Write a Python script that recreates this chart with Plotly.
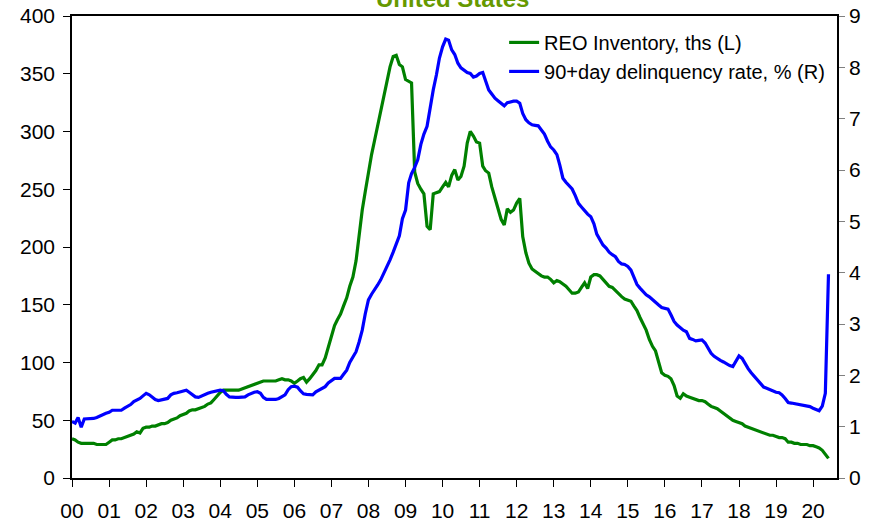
import pandas as pd
import plotly.graph_objects as go
from plotly.subplots import make_subplots

# monthly, Jan 2000 .. Jun 2020
dates = pd.date_range("2000-01-01", "2020-06-01", freq="MS")

# REO inventory, thousands (left axis)
reo = [
    34, 33, 31, 30, 30, 30, 30, 30, 29, 29, 29, 29,
    31, 33, 33, 34, 34, 35, 36, 37, 38, 40, 39, 43,
    44, 44, 45, 45, 46, 47, 47, 48, 50, 51, 52, 54,
    55, 56, 58, 59, 59, 60, 61, 62, 64, 65, 68, 71,
    74, 76, 76, 76, 76, 76, 76, 77, 78, 79, 80, 81,
    82, 83, 84, 84, 84, 84, 84, 85, 86, 85, 85, 84,
    82, 84, 86, 87, 83, 86, 89, 93, 98, 98, 104, 113,
    124, 132, 137, 142, 149, 156, 166, 174, 188, 210, 232, 248,
    265, 280, 292, 305, 318, 332, 345, 356, 365, 366, 358, 356,
    345, 343, 342, 265, 255, 250, 246, 218, 215, 246, 247, 248,
    252, 256, 252, 262, 267, 258, 261, 270, 290, 300, 296, 291,
    290, 270, 266, 264, 252, 242, 234, 224, 219, 233, 230, 232,
    238, 242, 209, 195, 186, 181, 179, 177, 175, 174, 174, 172,
    169, 171, 170, 168, 166, 163, 160, 160, 161, 165, 169, 164,
    174, 176, 176, 175, 172, 169, 166, 165, 162, 160, 157, 155,
    154, 153, 149, 145, 139, 133, 128, 120, 114, 110, 100, 91,
    89, 88, 86, 80, 71, 69, 73, 71, 70, 69, 68, 67,
    67, 66, 64, 62, 61, 60, 58, 56, 54, 52, 50, 49,
    48, 47, 45, 44, 43, 42, 41, 40, 39, 38, 37, 37,
    36, 35, 35, 34, 31, 31, 30, 30, 29, 29, 29, 28,
    28, 27, 26, 24, 21, 17,
]

# 90+ day delinquency rate, % (right axis)
delinq = [
    1.10, 1.07, 1.18, 0.99, 1.15, 1.15, 1.15, 1.16, 1.18, 1.21, 1.23, 1.26,
    1.28, 1.32, 1.32, 1.32, 1.32, 1.36, 1.39, 1.43, 1.49, 1.52, 1.55, 1.60,
    1.65, 1.62, 1.57, 1.53, 1.51, 1.52, 1.54, 1.55, 1.62, 1.65, 1.66, 1.68,
    1.70, 1.71, 1.67, 1.62, 1.58, 1.57, 1.60, 1.63, 1.65, 1.67, 1.68, 1.70,
    1.71, 1.70, 1.63, 1.58, 1.57, 1.57, 1.57, 1.58, 1.58, 1.62, 1.65, 1.67,
    1.68, 1.65, 1.57, 1.53, 1.53, 1.53, 1.53, 1.55, 1.58, 1.62, 1.72, 1.78,
    1.79, 1.77, 1.70, 1.64, 1.63, 1.62, 1.62, 1.68, 1.71, 1.74, 1.78, 1.85,
    1.90, 1.94, 1.94, 1.94, 2.02, 2.10, 2.25, 2.36, 2.46, 2.65, 2.88, 3.20,
    3.47, 3.58, 3.66, 3.76, 3.86, 3.98, 4.13, 4.25, 4.40, 4.55, 4.72, 5.05,
    5.22, 5.75, 5.93, 6.05, 6.20, 6.50, 6.70, 6.85, 7.25, 7.56, 7.85, 8.18,
    8.40, 8.55, 8.53, 8.34, 8.25, 8.08, 7.99, 7.94, 7.90, 7.88, 7.81, 7.83,
    7.88, 7.90, 7.75, 7.56, 7.48, 7.40, 7.35, 7.29, 7.25, 7.31, 7.33, 7.34,
    7.34, 7.30, 7.10, 6.98, 6.92, 6.88, 6.87, 6.86, 6.78, 6.70, 6.56, 6.45,
    6.39, 6.30, 6.10, 5.84, 5.76, 5.70, 5.63, 5.50, 5.35, 5.28, 5.20, 5.14,
    5.09, 4.95, 4.75, 4.64, 4.54, 4.48, 4.40, 4.35, 4.31, 4.22, 4.17, 4.16,
    4.12, 4.05, 3.90, 3.77, 3.70, 3.63, 3.57, 3.53, 3.48, 3.44, 3.37, 3.32,
    3.30, 3.29, 3.18, 3.05, 2.98, 2.92, 2.88, 2.85, 2.72, 2.70, 2.67, 2.68,
    2.69, 2.63, 2.53, 2.43, 2.37, 2.32, 2.29, 2.26, 2.22, 2.19, 2.17, 2.28,
    2.38, 2.33, 2.22, 2.13, 2.05, 1.98, 1.91, 1.83, 1.77, 1.75, 1.72, 1.70,
    1.67, 1.66, 1.62, 1.55, 1.47, 1.46, 1.45, 1.43, 1.42, 1.41, 1.40, 1.39,
    1.36, 1.33, 1.31, 1.40, 1.65, 3.97,
]

GREEN = "#008000"
BLUE = "#0000ff"
FONT = "Liberation Sans, Arial, sans-serif"

fig = make_subplots(specs=[[{"secondary_y": True}]])

fig.add_trace(
    go.Scatter(x=dates, y=reo, name="REO Inventory, ths (L)",
               mode="lines", line=dict(color=GREEN, width=3.2)),
    secondary_y=False,
)
fig.add_trace(
    go.Scatter(x=dates, y=delinq, name="90+day delinquency rate, % (R)",
               mode="lines", line=dict(color=BLUE, width=3.2)),
    secondary_y=True,
)

# title sits mostly above the top edge in the original
fig.add_annotation(
    text="<b>United States</b>", xref="paper", yref="paper",
    x=0.497, y=1.005, xanchor="center", yanchor="bottom", showarrow=False,
    font=dict(size=24, color="#669900", family=FONT),
)

fig.update_layout(
    width=890, height=524,
    margin=dict(l=72, r=53, t=16, b=46, autoexpand=False),
    plot_bgcolor="white", paper_bgcolor="white",
    font=dict(family=FONT, size=21, color="black"),
    showlegend=True,
    legend=dict(x=0.991, y=0.985, xanchor="right", yanchor="top",
                bgcolor="rgba(0,0,0,0)", font=dict(size=20),
                tracegroupgap=0),
    xaxis=dict(
        domain=[0, 1],
        range=["2000-01-01", "2020-08-24"], tickformat="%y",
        dtick="M12", tick0="2000-01-01", automargin=False,
        showgrid=False, showline=True, linecolor="black", linewidth=1.5,
        ticks="outside", ticklen=7, tickcolor="black",
        ticklabelstandoff=6, mirror=True,
    ),
    yaxis=dict(
        range=[0, 400], dtick=50, showgrid=False, zeroline=False,
        showline=True, linecolor="black", linewidth=1.5, automargin=False,
        ticks="outside", ticklen=7, tickcolor="black", ticklabelstandoff=4,
    ),
    yaxis2=dict(
        range=[0, 9], dtick=1, showgrid=False, zeroline=False,
        showline=True, linecolor="black", linewidth=1.5, automargin=False,
        ticks="outside", ticklen=6, tickcolor="gray",
    ),
)

# page body margin would shift the figure by 8px
fig.write_html("out.html", config={"displayModeBar": False},
               post_script="document.body.style.margin='0';")
